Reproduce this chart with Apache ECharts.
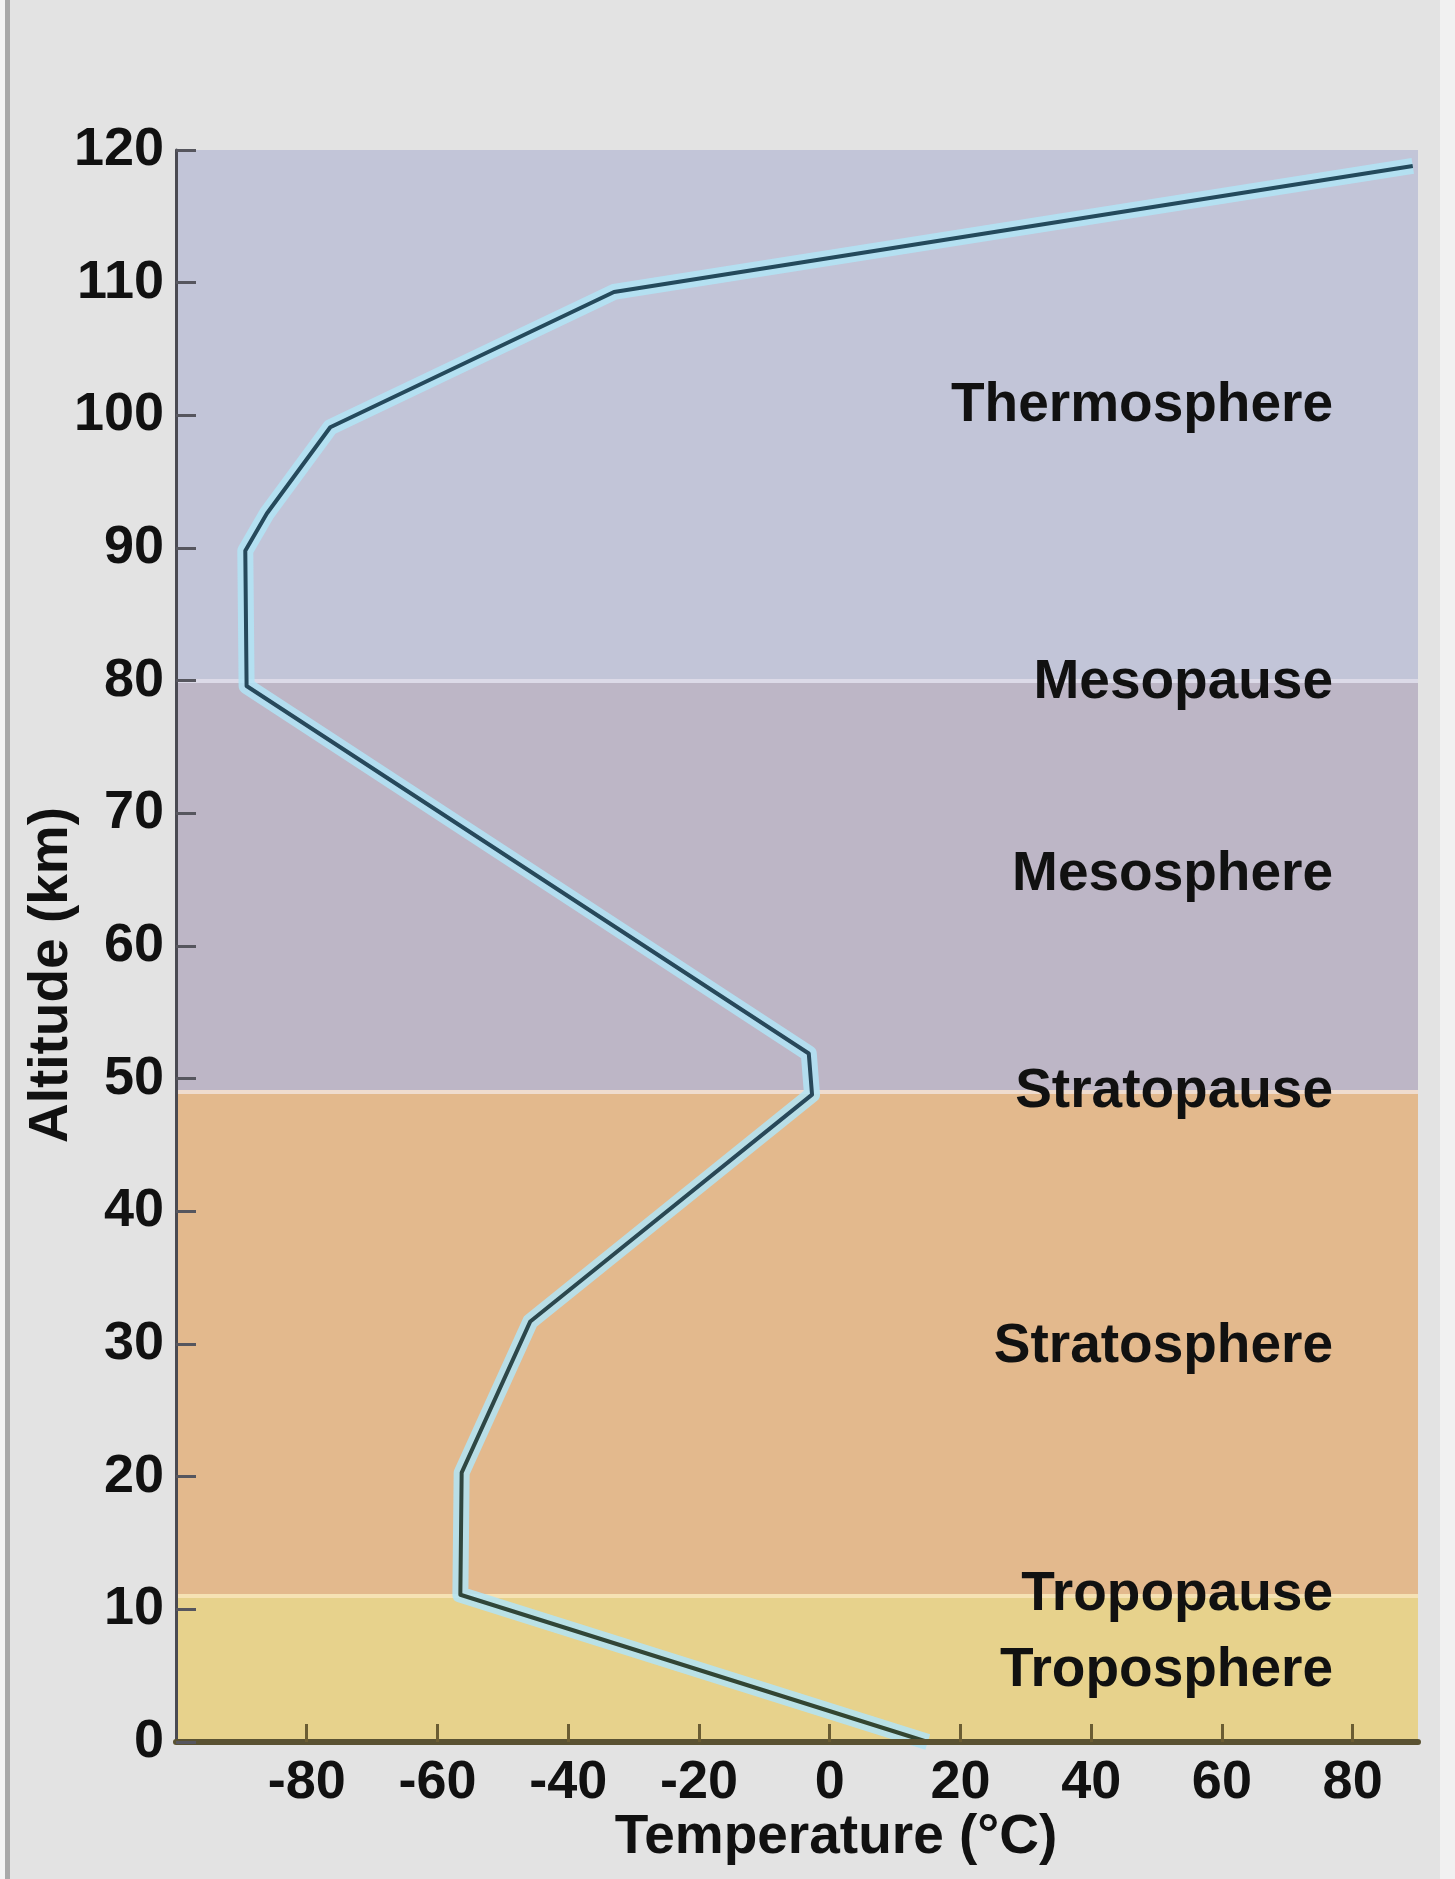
<!DOCTYPE html>
<html>
<head>
<meta charset="utf-8">
<script src="https://cdn.jsdelivr.net/npm/echarts@6/dist/echarts.min.js"></script>
<style>
html,body{margin:0;padding:0;background:#e3e3e3;}
#chart{width:1455px;height:1879px;}
</style>
</head>
<body>
<div id="chart"></div>
<script>
// Temperature profile (°C) vs altitude (km)
const temperature = [15, -56.5, -56.3, -45.8, -2.7, -3.2, -89.2, -89.4, -86.1, -76.4, -33.0, 89.2];
const altitude    = [0, 11.1, 20.3, 31.7, 48.8, 51.9, 79.6, 89.8, 92.6, 99.1, 109.3, 118.8];

// Atmospheric layers (bands) in km
const layerNames  = ['Troposphere', 'Stratosphere', 'Mesosphere', 'Thermosphere'];
const layerBounds = [0, 11, 49, 80, 120];
const pauseAltitudes = [11, 49, 80];

// Region labels
const regionLabels    = ['Thermosphere', 'Mesopause', 'Mesosphere', 'Stratopause', 'Stratosphere', 'Tropopause', 'Troposphere'];
const regionLabelAlts = [100.7, 79.8, 65.4, 49.0, 29.8, 11.1, 5.4];
const regionLabelTemp = 77;

// Axis ticks and titles
const xTickMin = -100, xTickMax = 90, xTickStep = 20;
const yTickMin = 0, yTickMax = 120, yTickStep = 10;
const xTitle = 'Temperature (°C)';
const yTitle = 'Altitude (km)';

const layerColors = ['#e7d28c', '#e3b98d', '#bdb6c6', '#c2c5d8'];
const pauseColors = ['#f6e2b4', '#efdccf', '#dcdae8'];

const profile = temperature.map((t, i) => [t, altitude[i]]);

const chart = echarts.init(document.getElementById('chart'), null, {renderer: 'canvas'});
const FONT = '"Liberation Sans", Arial, sans-serif';

chart.setOption({
  backgroundColor: '#e3e3e3',
  animation: false,
  grid: {left: 176, right: 37, top: 150, bottom: 137, containLabel: false},
  graphic: [
    {type: 'rect', z: 0, shape: {x: 5, y: 0, width: 5, height: 1879}, style: {fill: '#a9a9a9'}},
    {type: 'rect', z: 0, shape: {x: 0, y: 0, width: 5, height: 1879}, style: {fill: '#f4f4f4'}},
    {type: 'rect', z: 0, shape: {x: 1440, y: 0, width: 15, height: 1879}, style: {fill: '#f1f1f1'}},
    {type: 'text', z: 20, x: 52, y: 975, rotation: Math.PI / 2,
      style: {text: yTitle, textAlign: 'center', textVerticalAlign: 'middle',
        font: 'bold 55px "Liberation Sans", Arial, sans-serif', fill: '#111'}},
    {type: 'text', z: 20, x: 836, y: 1838,
      style: {text: xTitle, textAlign: 'center', textVerticalAlign: 'middle',
        font: 'bold 55px "Liberation Sans", Arial, sans-serif', fill: '#111'}}
  ],
  xAxis: {
    type: 'value', min: xTickMin, max: xTickMax, interval: xTickStep, z: 10,
    axisLine: {show: true, onZero: false, lineStyle: {color: '#5a5232', width: 6}},
    axisTick: {show: true, inside: true, length: 18, lineStyle: {color: '#6b5d33', width: 3}},
    axisLabel: {
      fontFamily: FONT, fontWeight: 'bold', fontSize: 54, color: '#111', margin: 14,
      showMinLabel: false, showMaxLabel: false,
      formatter: v => (v === xTickMin || v === xTickMax) ? '' : String(v)
    },
    splitLine: {show: false}
  },
  yAxis: {
    type: 'value', min: yTickMin, max: yTickMax, interval: yTickStep, z: 10,
    axisLine: {show: true, onZero: false, lineStyle: {color: '#4a4a52', width: 3}},
    axisTick: {show: true, inside: true, length: 20, lineStyle: {color: '#56565e', width: 3}},
    axisLabel: {fontFamily: FONT, fontWeight: 'bold', fontSize: 54, color: '#111', margin: 12},
    splitLine: {show: false}
  },
  series: [
    {
      type: 'line', data: profile, z: 3, symbol: 'none', smooth: false, silent: true,
      lineStyle: {color: 'rgba(178,228,246,0.85)', width: 16, join: 'round'},
      markArea: {
        silent: true, z: 1,
        data: layerNames.map((n, i) => [
          {yAxis: layerBounds[i], xAxis: xTickMin, itemStyle: {color: layerColors[i]}},
          {yAxis: layerBounds[i + 1], xAxis: xTickMax}
        ]),
        label: {show: false}
      },
      markLine: {
        silent: true, symbol: 'none', z: 2, label: {show: false},
        data: pauseAltitudes.map((a, i) => ({yAxis: a, lineStyle: {color: pauseColors[i], width: 4, type: 'solid'}}))
      }
    },
    {
      type: 'line', data: profile, z: 4, symbol: 'none', smooth: false, silent: true,
      lineStyle: {
        width: 4, join: 'round',
        color: {type: 'linear', x: 0, y: 0, x2: 0, y2: 1, colorStops: [
          {offset: 0, color: '#244a5c'},
          {offset: 0.6, color: '#28485a'},
          {offset: 1, color: '#33452f'}
        ]}
      }
    },
    {
      type: 'scatter', z: 5, symbolSize: 0, silent: true,
      itemStyle: {opacity: 1},
      data: regionLabels.map((n, i) => ({name: n, value: [regionLabelTemp, regionLabelAlts[i]]})),
      label: {
        show: true, position: 'left', distance: 0, formatter: p => p.name,
        fontFamily: FONT, fontWeight: 'bold', fontSize: 55, color: '#111'
      }
    }
  ]
});
</script>
</body>
</html>
